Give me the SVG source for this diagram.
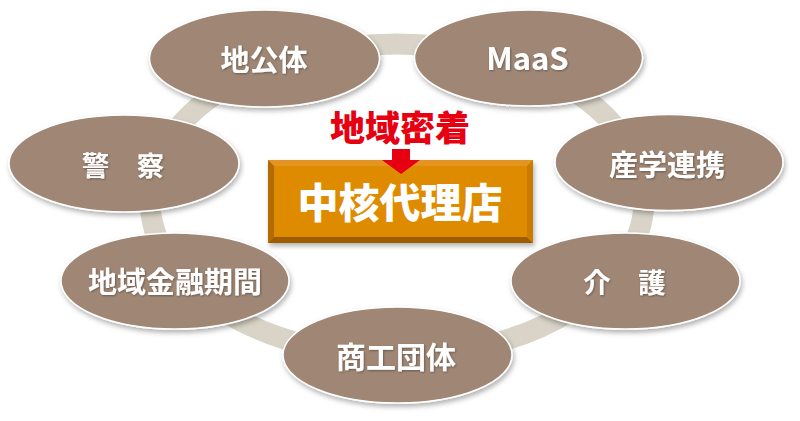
<svg xmlns="http://www.w3.org/2000/svg" width="800" height="421" viewBox="0 0 800 421">
<defs>
<filter id="sh" x="-20%" y="-20%" width="140%" height="150%">
<feDropShadow dx="1.5" dy="3" stdDeviation="2.5" flood-color="#000" flood-opacity="0.3"/>
</filter>
<filter id="tsh" x="-10%" y="-20%" width="120%" height="140%">
<feDropShadow dx="0.8" dy="1" stdDeviation="0.8" flood-color="#000" flood-opacity="0.35"/>
</filter>
</defs>
<style>
.node{fill:#a08775;stroke:#ffffff;stroke-width:1.5;filter:url(#sh)}
.lbl{fill:#ffffff;font-family:"Noto Sans CJK JP","Noto Sans",sans-serif;font-weight:700;text-anchor:middle;filter:url(#tsh)}
.ring{fill:none;stroke:#d9d4c7;stroke-width:21}
.ctr{font-family:"Noto Sans CJK JP","Noto Sans",sans-serif;font-weight:900;text-anchor:middle}
</style>
<rect width="800" height="421" fill="#ffffff"/>
<g id="connectors">
<ellipse class="ring" cx="397" cy="200" rx="247" ry="156"/>
</g>
<g id="n-chikotai">
<ellipse class="node" cx="264.5" cy="58.5" rx="115" ry="48.5"/>
<text class="lbl" x="264" y="70.5" font-size="29">地公体</text>
</g>
<g id="n-maas">
<ellipse class="node" cx="528.5" cy="58" rx="114" ry="48"/>
<text class="lbl" x="527.5" y="70" font-size="31">MaaS</text>
</g>
<g id="n-keisatsu">
<ellipse class="node" cx="124" cy="163.5" rx="115" ry="48.5"/>
<text class="lbl" x="123" y="175.5" font-size="27.5">警　察</text>
</g>
<g id="n-sangaku">
<ellipse class="node" cx="669" cy="162.5" rx="114" ry="48"/>
<text class="lbl" x="667" y="176" font-size="29">産学連携</text>
</g>
<g id="n-kinyu">
<ellipse class="node" cx="175" cy="281" rx="114" ry="48"/>
<text class="lbl" x="175" y="293" font-size="29">地域金融期間</text>
</g>
<g id="n-kaigo">
<ellipse class="node" cx="625.5" cy="281" rx="114.5" ry="48"/>
<text class="lbl" x="624.5" y="293" font-size="27.5">介　護</text>
</g>
<g id="n-shoko">
<ellipse class="node" cx="397.5" cy="355" rx="114.5" ry="48"/>
<text class="lbl" x="396" y="368" font-size="30">商工団体</text>
</g>
<g id="n-center">
<g filter="url(#sh)">
<rect x="268" y="160" width="265" height="83" fill="#df8b00"/>
<polygon points="268,160 533,160 527,166 274,166" fill="#e39420"/>
<polygon points="268,160 274,166 274,237 268,243" fill="#b36b00"/>
<polygon points="268,243 274,237 527,237 533,243" fill="#9e5c00"/>
<polygon points="533,160 533,243 527,237 527,166" fill="#c97c00"/>
</g>
<polygon points="392,149 410,149 410,160 420,160 401,174 382,160 392,160" fill="#e60012"/>
<text class="ctr" x="400" y="141" font-size="35" fill="#e60012">地域密着</text>
<text class="ctr" x="400" y="218" font-size="41" fill="#ffffff">中核代理店</text>
</g>
</svg>
